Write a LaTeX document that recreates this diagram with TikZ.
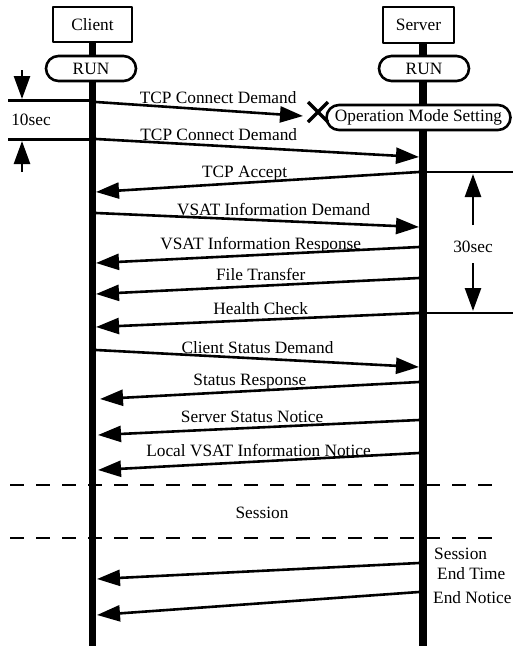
\documentclass[tikz,border=0pt]{standalone}
\usepackage{fontspec}
\setmainfont{Liberation Serif}
\usetikzlibrary{arrows.meta}
\begin{document}
\begin{tikzpicture}[x=1pt,y=-1pt, line join=round,
	font=\fontsize{17.3}{20}\selectfont,
	box/.style={draw,line width=2.4pt,inner sep=0pt},
	run/.style={draw,line width=2.6pt,fill=white,rounded corners=12.5pt,inner sep=0pt,minimum height=25pt},
	life/.style={line width=7.5pt},
	msg/.style={line width=2.6pt,-{Triangle[length=23pt,width=16pt]}},
	lab/.style={anchor=base,yshift=5.5pt,inner sep=0pt},
	rule/.style={line width=2.4pt}]
	\useasboundingbox (0,0) rectangle (513,646);
	% header boxes and life lines
	\node[box,minimum width=79pt,minimum height=35pt] (client) at (92.5,24.5) {Client};
	\node[box,minimum width=71pt,minimum height=36pt] (server) at (418.5,25) {Server};
	\coordinate (cend) at (92,646);
	\coordinate (send) at (423,646);
	\draw[life] (client.south) -- (client.south |- cend);
	\draw[life] (server.south -| send) -- (send);
	\node[run,minimum width=90pt] (crun) at (91,68.5) {RUN};
	\node[run,minimum width=90pt] (srun) at (424,68.5) {RUN};
	\node[run,minimum width=184pt] (mode) at (418.5,117.5) {Operation Mode Setting};
	% lost demand
	\coordinate (c0) at (96,102);
	\coordinate (lost) at (318,112);
	\draw[msg] (c0) -- node[lab,pos=.59,yshift=1.5pt] (m0) {TCP Connect Demand} (303,116);
	\draw[line width=3.2pt] (lost) +(-10,-10) -- +(10,10) (lost) +(-10,10) -- +(10,-10);
	% client to server
	\foreach \ya/\yb/\p/\t [count=\i] in {139/157/.38/TCP Connect Demand,213/227/.55/VSAT Information Demand,350/367/.5/Client Status Demand}{
		\coordinate (ca\i) at (96,\ya);
		\coordinate (sa\i) at (419,\yb);
		\draw[msg] (ca\i) -- node[lab,pos=\p] (ma\i) {\t} (sa\i);
	}
	% server to client
	\foreach \ya/\yb/\xb/\p/\t [count=\i] in {172/192/96/.54/TCP Accept,247/263/96/.49/VSAT Information Response,278/294/96/.49/File Transfer,313/327/96/.49/Health Check,382/399/100/.53/Status Response,420/435/98/.52/Server Status Notice,453/470/98/.5/Local VSAT Information Notice,563/579/97/.5/,592/615/97/.5/}{
		\coordinate (sb\i) at (419,\ya);
		\coordinate (cb\i) at (\xb,\yb);
		\draw[msg] (sb\i) -- node[lab,pos=\p] (mb\i) {\t} (cb\i);
	}
	% 10sec
	\coordinate (l1) at (8,100.5);
	\coordinate (l2) at (8,139.5);
	\draw[rule] (l1) -- (l1 -| client.south);
	\draw[rule] (l2) -- (l2 -| client.south);
	\draw[msg] (22,70) -- (22,99);
	\draw[msg] (22,172) -- (22,141);
	\node (ten) at (31,120) {10sec};
	% 30sec
	\coordinate (r1) at (513,172);
	\coordinate (r2) at (513,313);
	\draw[rule] (sb1) -- (r1);
	\draw[rule] (sb4) -- (r2);
	\draw[msg] (473,225) -- (473,174);
	\draw[msg] (473,263) -- (473,311);
	\node (thirty) at (473,247) {30sec};
	% session
	\draw[line width=2.6pt,dash pattern=on 14pt off 12pt] (10,485) -- (498,485) (10,538) -- (498,538);
	\node (sess) at (262,513) {Session};
	\node[anchor=base west,inner sep=0pt] (endt1) at (434,559) {Session};
	\node[anchor=base west,inner sep=0pt] (endt2) at (437,579) {End Time};
	\node[anchor=base west,inner sep=0pt] (endn) at (433,603) {End Notice};
\end{tikzpicture}
\end{document}
